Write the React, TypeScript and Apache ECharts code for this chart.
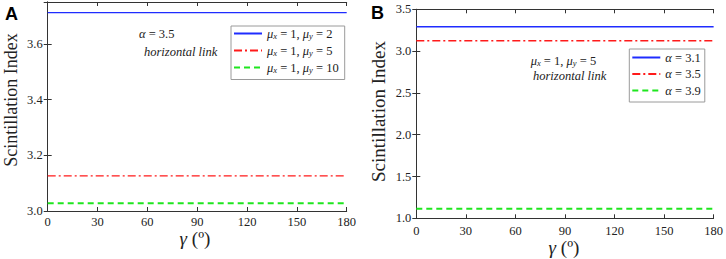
import React, { useEffect, useRef } from "react";
import * as echarts from "echarts";

// ---- data ----
const gamma = [0, 30, 60, 90, 120, 150, 180];
// Panel A (alpha = 3.5, horizontal link)
const siA_muy2 = [3.712, 3.712, 3.712, 3.712, 3.712, 3.712, 3.712];
const siA_muy5 = [3.126, 3.126, 3.126, 3.126, 3.126, 3.126, 3.126];
const siA_muy10 = [3.028, 3.028, 3.028, 3.028, 3.028, 3.028, 3.028];
// Panel B (mu_x = 1, mu_y = 5, horizontal link)
const siB_a31 = [3.292, 3.292, 3.292, 3.292, 3.292, 3.292, 3.292];
const siB_a35 = [3.124, 3.124, 3.124, 3.124, 3.124, 3.124, 3.124];
const siB_a39 = [1.115, 1.115, 1.115, 1.115, 1.115, 1.115, 1.115];

const namesA = ["A1", "A2", "A3"];
const namesB = ["B1", "B2", "B3"];
const legendLabels: Record<string, string> = {
  A1: "{i|μ}{s|x}{n| = 1, }{i|μ}{s|y}{n| = 2}",
  A2: "{i|μ}{s|x}{n| = 1, }{i|μ}{s|y}{n| = 5}",
  A3: "{i|μ}{s|x}{n| = 1, }{i|μ}{s|y}{n| = 10}",
  B1: "{i|α}{n| = 3.1}",
  B2: "{i|α}{n| = 3.5}",
  B3: "{i|α}{n| = 3.9}",
};

const SERIF = "Liberation Serif, Times New Roman, serif";
const SANS = "Liberation Sans, Arial, sans-serif";
const BLUE = "#1f2cff";
const RED = "#ff1a1a";
const GREEN = "#1ee61e";
const INK = "#222";

const rich = {
  i: { fontFamily: SERIF, fontStyle: "italic", fontSize: 12.5, lineHeight: 14, color: INK, fill: INK },
  n: { fontFamily: SERIF, fontStyle: "normal", fontSize: 12.5, lineHeight: 14, color: INK, fill: INK },
  s: { fontFamily: SERIF, fontStyle: "italic", fontSize: 8.5, lineHeight: 8, verticalAlign: "bottom", color: INK, fill: INK },
  g: { fontFamily: SERIF, fontStyle: "italic", fontSize: 19, color: INK, fill: INK },
  p: { fontFamily: SERIF, fontStyle: "normal", fontSize: 19, color: INK, fill: INK },
};

const pairs = (vals: number[]) => gamma.map((g, i) => [g, vals[i]]);

export default function App() {
  const ref = useRef<HTMLDivElement>(null);
  useEffect(() => {
    document.body.style.margin = "0";
    const chart = echarts.init(ref.current!, null, { renderer: "svg" });
    const axisLine = { show: true, lineStyle: { color: "#333", width: 1 } };
    const tick = { show: true, inside: true, length: 4, lineStyle: { color: "#333" } };
    const labelStyle = { fontFamily: SERIF, fontSize: 12.5, color: INK };
    const xBottom = (grid: number, margin: number) => ({
      type: "value",
      gridIndex: grid,
      min: 0,
      max: 180,
      interval: 30,
      position: "bottom",
      axisLine,
      axisTick: tick,
      splitLine: { show: false },
      axisLabel: { ...labelStyle, margin },
    });
    const xTop = (grid: number) => ({
      type: "value",
      gridIndex: grid,
      min: 0,
      max: 180,
      interval: 30,
      position: "top",
      axisLine,
      axisTick: tick,
      splitLine: { show: false },
      axisLabel: { show: false },
    });
    const yLeft = (grid: number, min: number, max: number, interval: number, showMax: boolean) => ({
      type: "value",
      gridIndex: grid,
      min,
      max,
      interval,
      position: "left",
      axisLine,
      axisTick: tick,
      splitLine: { show: false },
      axisLabel: {
        ...labelStyle,
        margin: 5,
        showMaxLabel: showMax,
        formatter: (v: number) => v.toFixed(1),
      },
    });
    const yRight = (grid: number, min: number, max: number, interval: number) => ({
      type: "value",
      gridIndex: grid,
      min,
      max,
      interval,
      position: "right",
      axisLine,
      axisTick: tick,
      splitLine: { show: false },
      axisLabel: { show: false },
    });
    const lineSeries = (name: string, vals: number[], axis: number, color: string, width: number, type: any) => ({
      name,
      type: "line",
      xAxisIndex: axis,
      yAxisIndex: axis,
      data: pairs(vals),
      symbol: "none",
      lineStyle: { color, width, type },
      itemStyle: { color },
    });
    const legendBase = {
      orient: "vertical",
      backgroundColor: "#fff",
      borderColor: "#9a9a9a",
      borderWidth: 1,
      itemWidth: 28,
      itemHeight: 14,
      itemGap: 3.5,
      itemTextGap: 3,
      selectedMode: false,
      itemStyle: { opacity: 0 },
      formatter: (n: string) => legendLabels[n],
      textStyle: { fontFamily: SERIF, fontSize: 12.5, color: INK, rich },
    };
    const text = (x: number, y: number, t: string, align = "left") => ({
      type: "text",
      x,
      y,
      style: {
        text: t,
        rich,
        fontFamily: SERIF,
        fontSize: 12.5,
        verticalAlign: "middle",
        align,
        fill: INK,
      },
    });
    const yName = (x: number, y: number, size: number) => ({
      type: "text",
      x,
      y,
      rotation: Math.PI / 2,
      style: {
        text: "Scintillation Index",
        fontFamily: SERIF,
        fontSize: size,
        fill: INK,
        align: "center",
        verticalAlign: "middle",
      },
    });
    const panel = (x: number, y: number, t: string) => ({
      type: "text",
      x,
      y,
      style: {
        text: t,
        fontFamily: SANS,
        fontWeight: "bold",
        fontSize: 18,
        fill: "#000",
        align: "left",
        verticalAlign: "middle",
      },
    });
    chart.setOption({
      animation: false,
      textStyle: { fontFamily: SERIF },
      grid: [
        { left: 47.7, top: 2, width: 299, height: 209 },
        { left: 416.3, top: 9.3, width: 299, height: 209 },
      ],
      xAxis: [xBottom(0, 4), xTop(0), xBottom(1, 6), xTop(1)],
      yAxis: [
        yLeft(0, 3.0, 3.75, 0.2, false),
        yRight(0, 3.0, 3.75, 0.2),
        yLeft(1, 1.0, 3.5, 0.5, true),
        yRight(1, 1.0, 3.5, 0.5),
      ],
      legend: [
        { ...legendBase, data: namesA, left: 231, top: 26, padding: [1, 6, 5, 2] },
        { ...legendBase, data: namesB, left: 629.3, top: 49, padding: [2, 4, 5, 2] },
      ],
      series: [
        lineSeries("A1", siA_muy2, 0, BLUE, 1.4, "solid"),
        lineSeries("A2", siA_muy5, 0, RED, 1.3, [8, 3, 2, 3]),
        lineSeries("A3", siA_muy10, 0, GREEN, 2, [6, 4]),
        lineSeries("B1", siB_a31, 2, BLUE, 1.4, "solid"),
        lineSeries("B2", siB_a35, 2, RED, 1.3, [8, 3, 2, 3]),
        lineSeries("B3", siB_a39, 2, GREEN, 2, [6, 4]),
      ],
      graphic: [
        panel(5, 14, "A"),
        panel(371, 13, "B"),
        yName(11, 100, 18),
        yName(378, 111.5, 19),
        text(195, 238, "{g|γ}{p| (º)}", "center"),
        text(564, 247, "{g|γ}{p| (º)}", "center"),
        text(139, 34, "{i|α}{n| = 3.5}"),
        text(144, 52, "{i|horizontal link}"),
        text(530.7, 60.7, "{i|μ}{s|x}{n| = 1, }{i|μ}{s|y}{n| = 5}"),
        text(533, 76, "{i|horizontal link}"),
      ],
    });
    return () => chart.dispose();
  }, []);
  return <div ref={ref} style={{ width: 726, height: 259 }} />;
}
